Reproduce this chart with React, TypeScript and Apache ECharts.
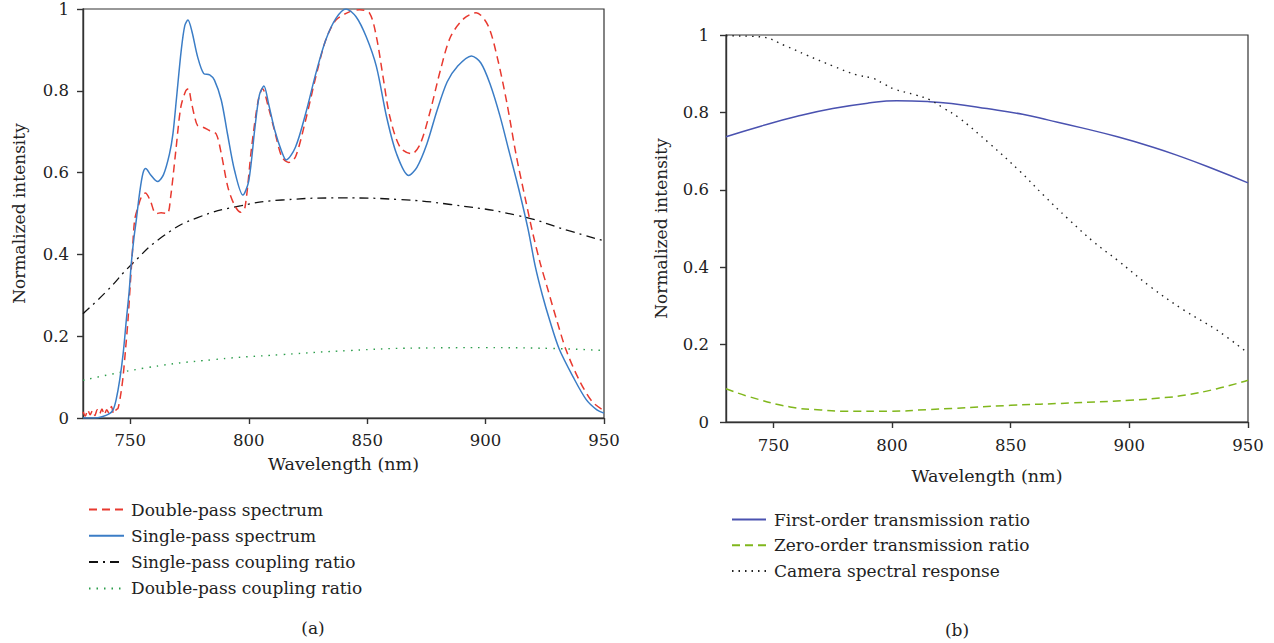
import React, { useEffect, useRef } from "react";
import * as echarts from "echarts";

const FONT = "DejaVu Serif";
const xTicks = [750, 800, 850, 900, 950];

// Panel (a)
const doublePassNames = ["Double-pass spectrum", "Single-pass spectrum", "Single-pass coupling ratio", "Double-pass coupling ratio"];
const singleSpecX = [730, 735, 738, 741, 742.7, 744, 745.5, 747, 748.3, 749.5, 750.4, 751.5, 752.5, 753.9, 755.3, 756.5, 758.5, 761.5, 764, 766.5, 768, 769.4, 771.5, 773, 774.3, 776, 778.4, 781, 783.5, 785.5, 788.4, 791, 794, 797.5, 800, 802.6, 804.5, 806.4, 808.3, 811, 814, 815.8, 819.7, 824, 828.3, 832.5, 836.8, 841.1, 845.3, 849.6, 853.9, 858.2, 862.4, 867.5, 871, 875.2, 879.5, 883.8, 888, 894, 898, 902, 906, 910, 914, 918, 921, 924, 927, 931, 937, 942.5, 947, 950];
const singleSpecY = [0, 0, 0.003, 0.01, 0.02, 0.045, 0.093, 0.16, 0.24, 0.31, 0.378, 0.44, 0.484, 0.55, 0.598, 0.61, 0.595, 0.578, 0.595, 0.645, 0.696, 0.777, 0.9, 0.96, 0.973, 0.945, 0.883, 0.842, 0.839, 0.826, 0.777, 0.695, 0.605, 0.545, 0.58, 0.71, 0.79, 0.812, 0.77, 0.703, 0.65, 0.631, 0.662, 0.744, 0.842, 0.924, 0.977, 1.0, 0.981, 0.932, 0.859, 0.736, 0.646, 0.593, 0.613, 0.67, 0.752, 0.822, 0.859, 0.885, 0.868, 0.815, 0.74, 0.65, 0.56, 0.46, 0.37, 0.3, 0.24, 0.17, 0.1, 0.045, 0.02, 0.012];

const doubleSpecX = [730, 731, 732, 733, 734, 735, 736, 737, 738, 739, 740, 741, 742, 743, 744, 744.8, 746, 746.9, 748, 749, 750, 750.8, 751.8, 753.3, 754.7, 756.3, 758.5, 760, 761, 763, 765.6, 767, 769.2, 771.3, 773.4, 774.5, 775.6, 777, 778.4, 780.6, 783.4, 786.2, 788.4, 791.2, 794.1, 796.6, 798.4, 801.2, 804, 805.8, 808.3, 811.2, 814, 816.9, 819.7, 824, 828.3, 832.5, 836.8, 842.5, 846.8, 851, 853.9, 856.7, 859.6, 863.9, 868.8, 872.4, 876.7, 880.9, 885.2, 890.9, 896, 901, 905, 909, 913, 917, 920, 923, 926, 930, 934, 939.5, 945, 950];
const doubleSpecY = [0.015, 0.005, 0.02, 0.008, 0.018, 0.006, 0.02, 0.01, 0.022, 0.008, 0.02, 0.012, 0.028, 0.01, 0.02, 0.024, 0.06, 0.1, 0.17, 0.24, 0.33, 0.4, 0.484, 0.517, 0.541, 0.55, 0.53, 0.505, 0.5, 0.502, 0.5, 0.54, 0.654, 0.76, 0.8, 0.805, 0.777, 0.74, 0.715, 0.711, 0.703, 0.695, 0.646, 0.564, 0.519, 0.503, 0.515, 0.662, 0.777, 0.805, 0.76, 0.695, 0.638, 0.625, 0.638, 0.728, 0.834, 0.924, 0.973, 0.993, 0.998, 0.99, 0.932, 0.834, 0.736, 0.662, 0.646, 0.67, 0.752, 0.85, 0.932, 0.977, 0.991, 0.96, 0.88, 0.77, 0.64, 0.53, 0.45, 0.38, 0.32, 0.24, 0.166, 0.093, 0.04, 0.018];

const singleCoupX = [730, 740, 750.6, 764.2, 778.4, 796.9, 814, 839.7, 863.9, 885.2, 913.7, 935.1, 950];
const singleCoupY = [0.255, 0.31, 0.376, 0.446, 0.49, 0.519, 0.533, 0.538, 0.534, 0.522, 0.495, 0.458, 0.433];

const doubleCoupX = [730, 757, 785.5, 814, 842.5, 871, 899.5, 927.9, 950];
const doubleCoupY = [0.092, 0.123, 0.143, 0.155, 0.165, 0.171, 0.172, 0.17, 0.165];

// Panel (b)
const panelBNames = ["First-order transmission ratio", "Zero-order transmission ratio", "Camera spectral response"];
const firstOrderX = [730, 745, 760, 775, 790, 802, 815, 825, 840, 855, 866, 880, 895, 910, 922, 935, 950];
const firstOrderY = [0.737, 0.765, 0.79, 0.81, 0.824, 0.83, 0.828, 0.823, 0.81, 0.795, 0.78, 0.76, 0.737, 0.71, 0.685, 0.655, 0.618];

const zeroOrderX = [730, 740, 757, 770, 781, 799, 815, 825, 850, 875, 900, 915, 923, 937, 950];
const zeroOrderY = [0.086, 0.065, 0.039, 0.031, 0.028, 0.028, 0.032, 0.035, 0.043, 0.049, 0.056, 0.063, 0.069, 0.086, 0.108];

const cameraX = [730, 745, 755, 764, 775, 785, 792, 797, 801, 810, 816, 822, 828, 841, 854, 864, 874, 885, 895, 909, 923, 937, 950];
const cameraY = [0.998, 0.995, 0.972, 0.948, 0.92, 0.897, 0.888, 0.872, 0.86, 0.845, 0.832, 0.81, 0.787, 0.72, 0.647, 0.585, 0.526, 0.465, 0.418, 0.349, 0.289, 0.237, 0.178];

const zip = (xs: number[], ys: number[]) => xs.map((x, i) => [x, ys[i]]);

const axisLineStyle = { color: "#333", width: 1.4 };

function makeX(gridIndex: number, nameGap: number, labelMargin: number) {
  return {
    type: "value",
    gridIndex,
    min: 730,
    max: 950,
    name: "Wavelength (nm)",
    nameLocation: "middle",
    nameGap,
    nameTextStyle: { fontFamily: FONT, fontSize: 17.5, color: "#222" },
    axisLine: { show: true, onZero: false, lineStyle: axisLineStyle },
    axisTick: { show: true, inside: false, length: 6, customValues: xTicks, lineStyle: axisLineStyle },
    axisLabel: { customValues: xTicks, fontFamily: FONT, fontSize: 16.5, color: "#222", margin: labelMargin },
    splitLine: { show: false },
  };
}

function makeY(gridIndex: number, nameGap: number, labelMargin: number) {
  return {
    type: "value",
    gridIndex,
    min: 0,
    max: 1,
    interval: 0.2,
    name: "Normalized intensity",
    nameLocation: "middle",
    nameGap,
    nameTextStyle: { fontFamily: FONT, fontSize: 17, color: "#222" },
    axisLine: { show: true, lineStyle: axisLineStyle },
    axisTick: { show: true, inside: false, length: 6, lineStyle: axisLineStyle },
    axisLabel: { fontFamily: FONT, fontSize: 16.5, color: "#222", margin: labelMargin },
    splitLine: { show: false },
  };
}

function line(name: string, xs: number[], ys: number[], idx: number, color: string, type: any, width = 1.4, smooth: number = 0.3) {
  return {
    type: "line",
    name,
    xAxisIndex: idx,
    yAxisIndex: idx,
    data: zip(xs, ys),
    symbol: "none",
    showSymbol: false,
    smooth,
    clip: true,
    lineStyle: { color, width, type },
    itemStyle: { color },
  };
}

export default function App() {
  const ref = useRef<HTMLDivElement>(null);
  useEffect(() => {
    document.body.style.margin = "0";
    const chart = echarts.init(ref.current!, null, { renderer: "svg" });
    const legendCommon = {
      orient: "vertical",
      itemHeight: 17,
      itemStyle: { opacity: 0 },
    };
    const option: any = {
      animation: false,
      backgroundColor: "#fff",
      grid: [
        { left: 83, top: 9, width: 521, height: 409, show: true, borderColor: "#333", borderWidth: 1.2, backgroundColor: "transparent" },
        { left: 726, top: 35, width: 522, height: 387, show: true, borderColor: "#333", borderWidth: 1.2, backgroundColor: "transparent" },
      ],
      xAxis: [makeX(0, 37, 14), makeX(1, 45, 15)],
      yAxis: [makeY(0, 56, 14), makeY(1, 57, 17)],
      legend: [
        {
          ...legendCommon,
          data: doublePassNames,
          left: 83,
          top: 496,
          itemWidth: 35,
          itemGap: 9.3,
          textStyle: { fontFamily: FONT, fontSize: 17, color: "#222", padding: [0, 0, 0, 2] },
        },
        {
          ...legendCommon,
          data: panelBNames,
          left: 726,
          top: 506,
          itemWidth: 34,
          itemGap: 8.8,
          textStyle: { fontFamily: FONT, fontSize: 17, color: "#222", padding: [0, 0, 0, 3] },
        },
      ],
      graphic: [
        { type: "text", x: 313, y: 628, style: { text: "(a)", font: `17px "${FONT}"`, fill: "#222", align: "center", verticalAlign: "middle" } },
        { type: "text", x: 957, y: 630, style: { text: "(b)", font: `17px "${FONT}"`, fill: "#222", align: "center", verticalAlign: "middle" } },
      ],
      series: [
        line(doublePassNames[3], doubleCoupX, doubleCoupY, 0, "#2a9d4a", [1.5, 6], 1.4, 0.5),
        line(doublePassNames[2], singleCoupX, singleCoupY, 0, "#111", [9, 5, 2, 5], 1.3, 0.5),
        line(doublePassNames[0], doubleSpecX, doubleSpecY, 0, "#e8392f", [8, 5], 1.5),
        line(doublePassNames[1], singleSpecX, singleSpecY, 0, "#3b7dc6", "solid", 1.5),
        line(panelBNames[0], firstOrderX, firstOrderY, 1, "#4a52b0", "solid", 1.5, 0.5),
        line(panelBNames[1], zeroOrderX, zeroOrderY, 1, "#80b71c", [8, 5], 1.5, 0.5),
        line(panelBNames[2], cameraX, cameraY, 1, "#222", [1.5, 5], 1.4, 0.4),
      ],
    };
    chart.setOption(option);
    return () => chart.dispose();
  }, []);
  return <div ref={ref} style={{ width: 1274, height: 643 }} />;
}
